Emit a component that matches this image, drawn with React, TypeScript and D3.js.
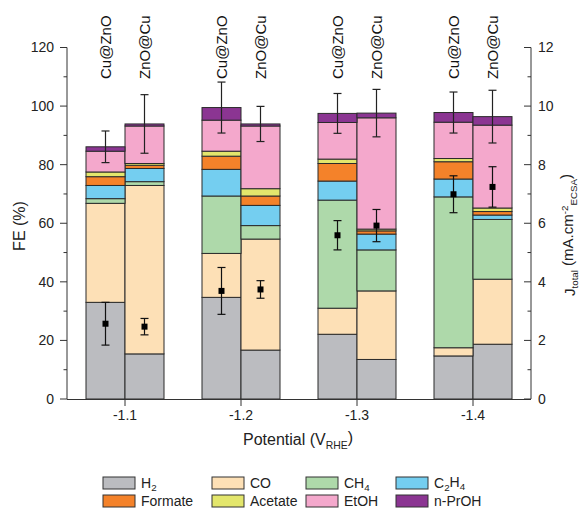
import React from "react";
import * as d3 from "d3";

const potentials = ["-1.1", "-1.2", "-1.3", "-1.4"];
const catalysts = ["Cu@ZnO", "ZnO@Cu"];
const products = ["H2", "CO", "CH4", "C2H4", "Formate", "Acetate", "EtOH", "n-PrOH"];
const productColors = ["#bbbcc0", "#fde0b6", "#aed9aa", "#74cef0", "#f4822a", "#e3e66c", "#f4a8cc", "#8b3592"];

// Bars in order: -1.1 Cu@ZnO, -1.1 ZnO@Cu, -1.2 Cu@ZnO, -1.2 ZnO@Cu, ...
const feH2 = [33.0, 15.4, 34.7, 16.7, 22.1, 13.5, 14.7, 18.7];
const feCO = [33.8, 57.5, 15.0, 37.9, 8.9, 23.4, 2.8, 22.2];
const feCH4 = [1.6, 1.3, 19.6, 4.6, 36.9, 14.0, 51.5, 20.4];
const feC2H4 = [4.5, 4.5, 9.1, 6.9, 6.5, 5.4, 6.1, 1.5];
const feFormate = [3.0, 1.1, 4.5, 3.2, 6.0, 1.1, 5.9, 1.2];
const feAcetate = [1.6, 0.6, 1.7, 2.5, 1.5, 0.6, 1.1, 1.2];
const feEtOH = [7.1, 12.8, 10.6, 21.4, 12.5, 38.0, 12.4, 28.3];
const fePrOH = [1.5, 0.7, 4.3, 0.7, 3.1, 1.6, 3.3, 2.9];
const feErr = [5.4, 10.0, 8.7, 6.0, 6.8, 8.1, 7.0, 9.0];
const jTotal = [2.57, 2.47, 3.69, 3.74, 5.59, 5.92, 6.99, 7.24];
const jErr = [0.73, 0.28, 0.8, 0.3, 0.5, 0.55, 0.63, 0.69];

const feTicks = [0, 20, 40, 60, 80, 100, 120];
const jTicks = [0, 2, 4, 6, 8, 10, 12];

const W = 579, H = 510;
const FONT = "'Liberation Sans', Arial, sans-serif";
const AXIS = "#333";

export default function App() {
  const series = [feH2, feCO, feCH4, feC2H4, feFormate, feAcetate, feEtOH, fePrOH];
  const rows = feH2.map((_, i) => {
    const r: any = { pot: potentials[Math.floor(i / 2)], cat: catalysts[i % 2], idx: i };
    products.forEach((p, k) => (r[p] = series[k][i]));
    return r;
  });
  const stacked = d3.stack().keys(products)(rows);

  const x = d3.scaleBand().domain(potentials).range([67, 531]).padding(0);
  const xi = d3.scaleBand().domain(catalysts).range([-39, 39]).padding(0);
  const y = d3.scaleLinear().domain([0, 120]).range([399, 47.5]);
  const yR = d3.scaleLinear().domain([0, 12]).range([399, 47.5]);
  const barX = (r: any) => (x(r.pot) as number) + x.bandwidth() / 2 + (xi(r.cat) as number);
  const bw = xi.bandwidth();

  const feMinor = d3.range(10, 120, 20);
  const jMinor = d3.range(1, 12, 2);

  const sub = (main: string, s: string, main2?: string, s2?: string) => (
    <>
      {main}
      <tspan fontSize="0.7em" dy="0.3em">{s}</tspan>
      {main2 !== undefined && <tspan dy="-0.3em">{main2}</tspan>}
      {s2 !== undefined && <tspan fontSize="0.7em" dy="0.3em">{s2}</tspan>}
    </>
  );
  const legendLabels: any[] = [
    sub("H", "2"),
    "CO",
    sub("CH", "4"),
    sub("C", "2", "H", "4"),
    "Formate",
    "Acetate",
    "EtOH",
    "n-PrOH",
  ];
  const legendX = [103, 212, 306, 396];
  const legendY = [477, 495];

  return (
    <svg width={W} height={H} style={{ position: "absolute", left: 0, top: 0, background: "#fff" }} fontFamily={FONT}>
      {/* bars */}
      {stacked.map((s, k) => (
        <g key={products[k]}>
          {s.map((d, i) => (
            <rect
              key={i}
              x={barX(rows[i])}
              y={y(d[1])}
              width={bw}
              height={Math.max(0, y(d[0]) - y(d[1]))}
              fill={productColors[k]}
              stroke="#2b2b2b"
              strokeWidth={1}
            />
          ))}
        </g>
      ))}
      {/* FE error bars on totals */}
      {rows.map((r, i) => {
        const tot = series.reduce((a, s) => a + s[i], 0);
        const cx = barX(r) + bw / 2;
        return (
          <g key={"fe" + i} stroke="#222" strokeWidth={1.2}>
            <line x1={cx} x2={cx} y1={y(tot + feErr[i])} y2={y(tot - feErr[i])} />
            <line x1={cx - 4} x2={cx + 4} y1={y(tot + feErr[i])} y2={y(tot + feErr[i])} />
            <line x1={cx - 4} x2={cx + 4} y1={y(tot - feErr[i])} y2={y(tot - feErr[i])} />
          </g>
        );
      })}
      {/* J total points */}
      {rows.map((r, i) => {
        const cx = barX(r) + bw / 2;
        return (
          <g key={"j" + i}>
            <g stroke="#111" strokeWidth={1.2}>
              <line x1={cx} x2={cx} y1={yR(jTotal[i] + jErr[i])} y2={yR(jTotal[i] - jErr[i])} />
              <line x1={cx - 4} x2={cx + 4} y1={yR(jTotal[i] + jErr[i])} y2={yR(jTotal[i] + jErr[i])} />
              <line x1={cx - 4} x2={cx + 4} y1={yR(jTotal[i] - jErr[i])} y2={yR(jTotal[i] - jErr[i])} />
            </g>
            <rect x={cx - 3} y={yR(jTotal[i]) - 3} width={6} height={6} fill="#000" />
          </g>
        );
      })}
      {/* catalyst labels on top */}
      {rows.map((r, i) => {
        const cx = barX(r) + bw / 2;
        return (
          <text key={"lab" + i} transform={`translate(${cx + 5.5},79) rotate(-90)`} fontSize={15} fill="#111">
            {r.cat}
          </text>
        );
      })}
      {/* left axis */}
      <line x1={67} x2={67} y1={y(120)} y2={y(0)} stroke={AXIS} strokeWidth={1} />
      {feTicks.map((t) => (
        <g key={"lt" + t}>
          <line x1={60} x2={67} y1={y(t)} y2={y(t)} stroke={AXIS} />
          <text x={54} y={y(t)} dy="0.35em" textAnchor="end" fontSize={14} fill="#222">{t}</text>
        </g>
      ))}
      {feMinor.map((t) => (
        <line key={"lm" + t} x1={63.5} x2={67} y1={y(t)} y2={y(t)} stroke={AXIS} />
      ))}
      <text transform={`translate(25,226) rotate(-90)`} textAnchor="middle" fontSize={16} fill="#222">FE (%)</text>
      {/* right axis */}
      <line x1={531} x2={531} y1={yR(12)} y2={yR(0)} stroke={AXIS} strokeWidth={1} />
      {jTicks.map((t) => (
        <g key={"rt" + t}>
          <line x1={524} x2={531} y1={yR(t)} y2={yR(t)} stroke={AXIS} />
          <text x={538} y={yR(t)} dy="0.35em" textAnchor="start" fontSize={14} fill="#222">{t}</text>
        </g>
      ))}
      {jMinor.map((t) => (
        <line key={"rm" + t} x1={527.5} x2={531} y1={yR(t)} y2={yR(t)} stroke={AXIS} />
      ))}
      <text transform={`translate(575,235) rotate(-90)`} textAnchor="middle" fontSize={15} fill="#222">
        J<tspan fontSize="0.65em" dy="0.35em">total</tspan>
        <tspan dy="-0.35em"> (mA.cm</tspan>
        <tspan fontSize="0.65em" dy="-0.5em">-2</tspan>
        <tspan fontSize="0.65em" dy="0.85em">ECSA</tspan>
        <tspan dy="-0.35em">)</tspan>
      </text>
      {/* bottom axis */}
      <line x1={67} x2={531} y1={399.5} y2={399.5} stroke={AXIS} strokeWidth={1} />
      {potentials.map((p) => {
        const cx = (x(p) as number) + x.bandwidth() / 2;
        return (
          <g key={"bt" + p}>
            <line x1={cx} x2={cx} y1={399.5} y2={406} stroke={AXIS} />
            <text x={cx} y={420} textAnchor="middle" fontSize={14} fill="#222">{p}</text>
          </g>
        );
      })}
      <text x={298} y={445} textAnchor="middle" fontSize={16} fill="#222">
        Potential (V<tspan fontSize="0.65em" dy="0.35em">RHE</tspan><tspan dy="-0.35em">)</tspan>
      </text>
      {/* legend */}
      {products.map((p, k) => {
        const lx = legendX[k % 4];
        const ly = legendY[Math.floor(k / 4)];
        return (
          <g key={"lg" + p}>
            <rect x={lx} y={ly} width={32} height={12} fill={productColors[k]} stroke="#333" strokeWidth={1} />
            <text x={lx + 38} y={ly + 11} fontSize={14} fill="#222">{legendLabels[k]}</text>
          </g>
        );
      })}
    </svg>
  );
}
